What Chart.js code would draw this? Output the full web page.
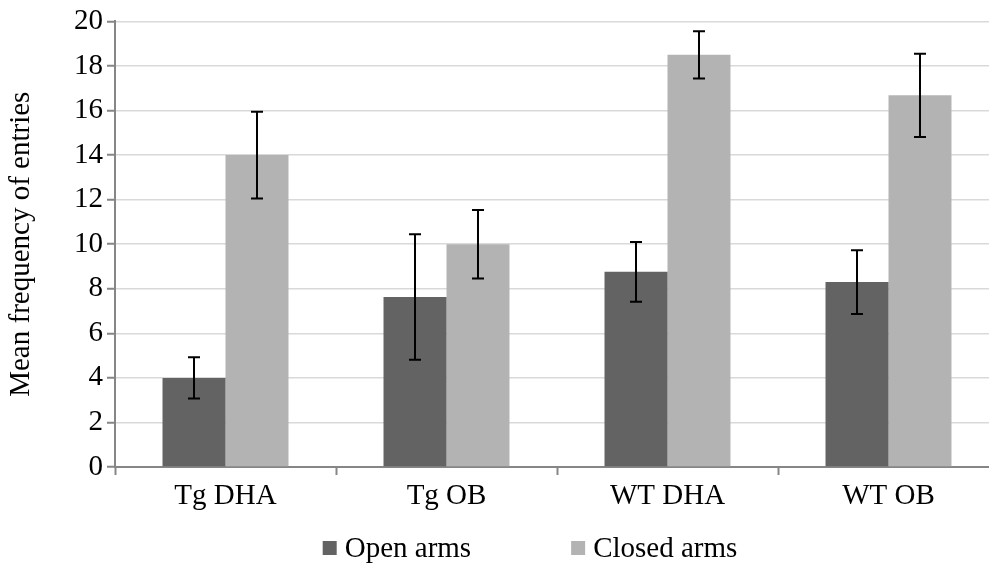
<!DOCTYPE html>
<html>
<head>
<meta charset="utf-8">
<script src="https://cdn.jsdelivr.net/npm/chart.js@4/dist/chart.umd.min.js"></script>
<style>
  html, body { margin: 0; padding: 0; background: #fff; overflow: hidden; }
  #wrap { width: 1060px; height: 574px; }
</style>
</head>
<body>
<div id="wrap"><canvas id="chart" width="1060" height="574"></canvas></div>
<script>
const groups = ['Tg DHA', 'Tg OB', 'WT DHA', 'WT OB'];
const openArms = [4.0, 7.63, 8.76, 8.3];
const closedArms = [14.0, 10.0, 18.5, 16.68];
const openErr = [0.93, 2.82, 1.34, 1.43];
const closedErr = [1.95, 1.54, 1.06, 1.87];

const serif = "'Liberation Serif', 'Times New Roman', serif";
const fontSize = 29;
const axisGray = '#868686';

// draws +/- error whiskers on top of every bar
const errorBars = {
    id: 'errorBars',
    afterDatasetsDraw(chart) {
        const ctx = chart.ctx;
        const y = chart.scales.y;
        ctx.save();
        ctx.strokeStyle = '#000';
        ctx.lineWidth = 2;
        chart.data.datasets.forEach((ds, i) => {
            const meta = chart.getDatasetMeta(i);
            meta.data.forEach((bar, j) => {
                const v = ds.data[j], e = ds.errors[j];
                const top = y.getPixelForValue(v + e);
                const bot = y.getPixelForValue(v - e);
                ctx.beginPath();
                ctx.moveTo(bar.x, top);
                ctx.lineTo(bar.x, bot);
                ctx.moveTo(bar.x - 6, top);
                ctx.lineTo(bar.x + 6, top);
                ctx.moveTo(bar.x - 6, bot);
                ctx.lineTo(bar.x + 6, bot);
                ctx.stroke();
            });
        });
        ctx.restore();
    }
};

// legend row under the axis: small square then label, wide gap between items
const bottomLegend = {
    id: 'bottomLegend',
    afterDraw(chart) {
        const ctx = chart.ctx;
        const box = 14, gap = 8, itemGap = 100;
        const rowY = 548;
        ctx.save();
        ctx.font = fontSize + 'px ' + serif;
        ctx.textBaseline = 'middle';
        const items = chart.data.datasets.map(ds => ({
            text: ds.label, color: ds.backgroundColor, w: ctx.measureText(ds.label).width
        }));
        let total = 0;
        items.forEach((it, i) => { total += box + gap + it.w + (i ? itemGap : 0); });
        let x = chart.width / 2 - total / 2;
        items.forEach(it => {
            ctx.fillStyle = it.color;
            ctx.fillRect(x, rowY - box / 2, box, box);
            ctx.fillStyle = '#000';
            ctx.fillText(it.text, x + box + gap, rowY + 1);
            x += box + gap + it.w + itemGap;
        });
        ctx.restore();
    }
};

new Chart(document.getElementById('chart'), {
    type: 'bar',
    data: {
        labels: groups,
        datasets: [
            { label: 'Open arms', data: openArms, errors: openErr, backgroundColor: '#636363' },
            { label: 'Closed arms', data: closedArms, errors: closedErr, backgroundColor: '#b3b3b3' }
        ]
    },
    options: {
        responsive: false,
        animation: false,
        devicePixelRatio: 1,
        categoryPercentage: 0.57,
        barPercentage: 1,
        layout: { padding: { top: 21, right: 61, bottom: 59, left: 0 } },
        plugins: {
            tooltip: { enabled: false },
            legend: { display: false }
        },
        scales: {
            x: {
                grid: {
                    drawOnChartArea: false,
                    drawTicks: true,
                    tickLength: 8,
                    tickColor: axisGray,
                    tickWidth: 2
                },
                border: { color: axisGray, width: 2 },
                ticks: { color: '#000', padding: 4, font: { family: serif, size: fontSize } },
                afterFit(scale) { scale.height = 48; }
            },
            y: {
                min: 0,
                max: 20,
                ticks: {
                    stepSize: 2,
                    autoSkip: false,
                    color: '#000',
                    padding: 4,
                    font: { family: serif, size: fontSize }
                },
                grid: {
                    color: '#d9d9d9',
                    lineWidth: 1.5,
                    tickLength: 8,
                    tickColor: axisGray,
                    tickWidth: 2
                },
                border: { color: axisGray, width: 2 },
                title: {
                    display: true,
                    text: 'Mean frequency of entries',
                    color: '#000',
                    padding: 4,
                    font: { family: serif, size: fontSize }
                },
                afterFit(scale) { scale.width = 115; }
            }
        }
    },
    plugins: [errorBars, bottomLegend]
});
</script>
</body>
</html>
